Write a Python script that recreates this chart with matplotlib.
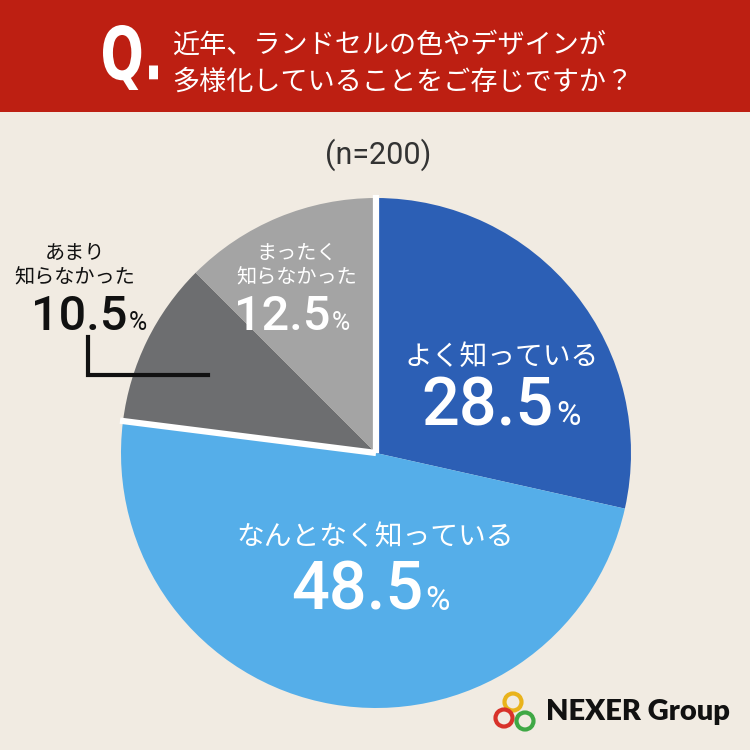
import matplotlib
matplotlib.use('Agg')
import matplotlib.pyplot as plt
from matplotlib.patches import Rectangle, Circle, PathPatch
from matplotlib.textpath import TextPath
from matplotlib.font_manager import FontProperties
from matplotlib.transforms import Affine2D
import numpy as np

plt.rcParams['font.family'] = ['Noto Sans CJK JP', 'DejaVu Sans']

# ---- data ----
title_lines = ["近年、ランドセルの色やデザインが", "多様化していることをご存じですか？"]
sample_note = "(n=200)"
categories = ["よく知っている", "なんとなく知っている", "あまり\n知らなかった", "まったく\n知らなかった"]
values = [28.5, 48.5, 10.5, 12.5]
colors = ["#2C5FB5", "#55AEE9", "#6D6E70", "#A4A4A4"]
brand = "NEXER Group"

BG = "#F1EBE2"
RED = "#BD1F12"
NUMFONT = ['Roboto', 'DejaVu Sans']

W = H = 750
fig = plt.figure(figsize=(7.5, 7.5), dpi=100)
fig.patch.set_facecolor(BG)
ax = fig.add_axes([0, 0, 1, 1])
ax.set_facecolor(BG)


def Y(y):
    return H - y


# ---- pie ----
cx, cy, r = 376, 453, 255
wedges, _ = ax.pie(values, startangle=90, counterclock=False, colors=colors,
                   center=(cx, Y(cy)), radius=r,
                   wedgeprops=dict(linewidth=0))
# white separators around the "not known" group
for ang in (wedges[0].theta2, wedges[2].theta2):
    t = np.deg2rad(ang)
    ax.plot([cx, cx + (r + 3) * np.cos(t)], [Y(cy), Y(cy) + (r + 3) * np.sin(t)],
            color="white", lw=4.5, solid_capstyle="butt", zorder=3)

ax.set_xlim(0, W)
ax.set_ylim(0, H)
ax.set_aspect('equal')
ax.axis('off')

# ---- header ----
ax.add_patch(Rectangle((0, Y(112)), W, 112, color=RED, zorder=5, lw=0))
qpath = TextPath((0, 0), "Q.", size=1, prop=FontProperties(family='DejaVu Sans', weight='bold'))
ext = qpath.get_extents()
x0, x1, y0, y1 = 103, 158, 25, 90
tr = (Affine2D().translate(-ext.x0, -ext.y0)
      .scale((x1 - x0) / ext.width, (y1 - y0) / ext.height)
      .translate(x0, Y(y1)))
ax.add_patch(PathPatch(tr.transform_path(qpath), color="white", lw=0, zorder=6))
for i, line in enumerate(title_lines):
    ax.text(172, Y(45 + 37 * i), line, color="white", fontsize=19.5,
            ha="left", va="center", zorder=6)

# ---- sample size ----
ax.text(378, Y(155), sample_note, color="#333333", fontsize=22,
        family=NUMFONT, ha="center", va="center")


def pct_label(xr, ybase, value, color, nsize, psize):
    ax.text(xr, Y(ybase), f"{value:.1f}", color=color, fontsize=nsize,
            family=NUMFONT, ha="right", va="baseline", fontweight="medium", zorder=7)
    ax.text(xr + 2, Y(ybase), "%", color=color, fontsize=psize,
            family=NUMFONT, ha="left", va="baseline", fontweight="normal", zorder=7)


# よく知っている
ax.text(502, Y(357), categories[0], color="white", fontsize=20,
        ha="center", va="center", zorder=7)
pct_label(554, 425, values[0], "white", 48, 24)

# なんとなく知っている
ax.text(375, Y(537), categories[1], color="white", fontsize=20,
        ha="center", va="center", zorder=7)
pct_label(423, 610, values[1], "white", 48, 24)

# まったく知らなかった
for i, line in enumerate(categories[3].split("\n")):
    ax.text(297, Y(253 + 25 * i), line, color="white", fontsize=14.5,
            ha="center", va="center", zorder=7)
pct_label(330, 330, values[3], "white", 35, 18)

# あまり知らなかった
for i, line in enumerate(categories[2].split("\n")):
    ax.text(75, Y(253 + 25 * i), line, color="#111111", fontsize=14.5,
            ha="center", va="center", zorder=7)
pct_label(127, 330, values[2], "#111111", 35, 18)
ax.plot([88, 88, 208], [Y(337), Y(375), Y(375)], color="#111111", lw=3,
        solid_joinstyle="miter", zorder=7)

# ---- logo ----
for (lx, ly), c in zip([(513, 702), (504, 718), (525, 721)],
                       ["#E9B31C", "#D8322A", "#3FA845"]):
    ax.add_patch(Circle((lx, Y(ly)), 8.5, fill=False, ec=c, lw=3, zorder=8))
ax.text(546, Y(720), brand, color="#111111", fontsize=21,
        family=['Lato', 'DejaVu Sans'], fontweight='heavy',
        ha="left", va="baseline", zorder=8)

fig.savefig("out.png", dpi=100, facecolor=BG)
